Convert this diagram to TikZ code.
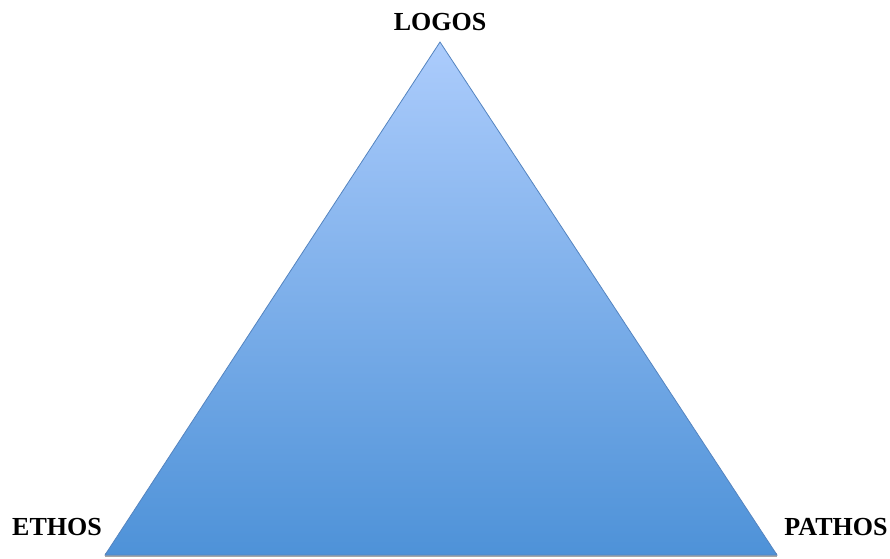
\documentclass[tikz,border=0pt]{standalone}
\usepackage{fontspec}
\setmainfont{Liberation Serif}
\usetikzlibrary{positioning}
\definecolor{skytop}{RGB}{172,204,252}
\definecolor{skybot}{RGB}{78,146,216}
\definecolor{edgeblue}{RGB}{84,132,192}

\begin{document}
\begin{tikzpicture}[x=1pt,y=1pt]
\tikzset{corner/.style={font=\fontsize{26}{30}\selectfont\bfseries,inner sep=0pt}}
\useasboundingbox (0,0) rectangle (890,558);
\coordinate (top) at (440,516);
\coordinate (bl) at (105,3);
\coordinate (br) at (777,3);
% soft shadow under the base
\fill[black!35] ([yshift=-2pt]bl) -- ([yshift=-2pt]br) -- ([yshift=2pt]br) -- ([yshift=2pt]bl) -- cycle;
\shade[top color=skytop,bottom color=skybot,draw=edgeblue,line width=0.8pt] (top) -- (br) -- (bl) -- cycle;
\node[corner] (logos) at (440,536) {LOGOS};
\node[corner] (ethos) at (57,31) {ETHOS};
\node[corner] (pathos) at (836,31) {PATHOS};
\end{tikzpicture}
\end{document}
